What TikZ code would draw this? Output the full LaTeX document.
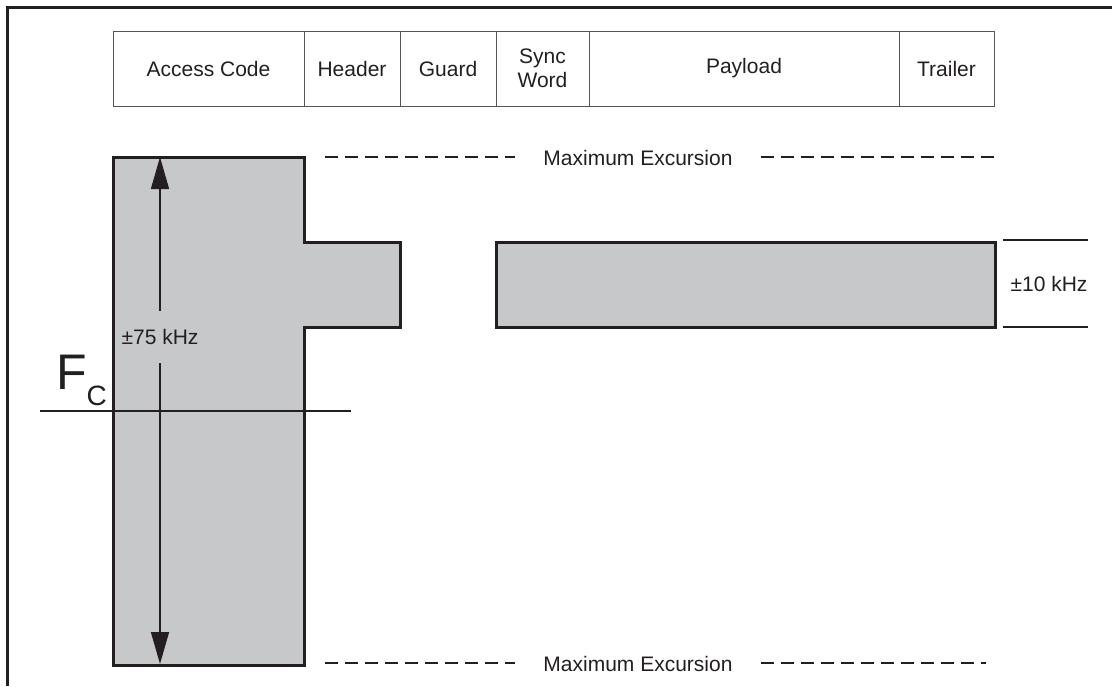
\documentclass[tikz,border=0pt]{standalone}
\usepackage{fontspec}
\setmainfont{Liberation Sans}
\usetikzlibrary{arrows.meta}
\definecolor{ink}{HTML}{231F20}
\definecolor{greyfill}{HTML}{C7C8CA}
\definecolor{cellline}{HTML}{555555}
\tikzset{
  cell/.style={draw=cellline, line width=1pt, minimum height=75pt, inner sep=0pt, outer sep=0pt, anchor=north west, align=center, text=ink, font=\fontsize{21}{24}\selectfont},
  lbl/.style={text=ink, inner sep=0pt, font=\fontsize{21}{24}\selectfont},
  band/.style={draw=ink, fill=greyfill, line width=3pt, line join=miter},
  maxline/.style={draw=ink, line width=2.2pt, dash pattern=on 13pt off 7pt},
  dimline/.style={draw=ink, line width=2.4pt},
  spanarrow/.style={draw=ink, line width=1.5pt, -{Triangle[length=32pt,width=18pt]}},
  frame/.style={draw=ink, line width=3pt}
}
\begin{document}
\begin{tikzpicture}[x=1pt,y=-1pt]
\useasboundingbox (0,0) rectangle (1112,686);
% frame
\coordinate (ftl) at (7,7);
\coordinate (ftr) at (1112,7);
\coordinate (fbl) at (7,686);
\draw[frame] (ftr) -- (ftl) -- (fbl);
% packet table
\node[cell, minimum width=191pt] (ac) at (113,31) {Access Code};
\node[cell, minimum width=96pt] (hd) at (ac.north east) {Header};
\node[cell, minimum width=96pt] (gd) at (hd.north east) {Guard};
\node[cell, minimum width=93pt] (sw) at (gd.north east) {Sync\\Word};
\node[cell, minimum width=310pt] (pl) at (sw.north east) {Payload};
\node[cell, minimum width=95pt] (tr) at (pl.north east) {Trailer};
% grey bands
\draw[band] (113,157) -- (304,157) -- (304,242) -- (400,242) -- (400,327) -- (304,327) -- (304,665) -- (113,665) -- cycle;
\draw[band] (496,242) rectangle (995,327);
% maximum excursion lines
\node[lbl, inner xsep=28pt] (mt) at (638,158) {Maximum Excursion};
\coordinate (mtl) at (325,157);
\coordinate (mtr) at (998,157);
\draw[maxline] (mtl) -- (mt.west |- mtl);
\draw[maxline] (mt.east |- mtr) -- (mtr);
\node[lbl, inner xsep=28pt] (mb) at (638,664) {Maximum Excursion};
\coordinate (mbl) at (325,663);
\coordinate (mbr) at (986,663);
\draw[maxline] (mbl) -- (mb.west |- mbl);
\draw[maxline] (mb.east |- mbr) -- (mbr);
% +-75 kHz arrow
\node[lbl, minimum height=52pt] (k75) at (160,337) {±75 kHz};
\coordinate (atop) at (160,157);
\coordinate (abot) at (160,664);
\draw[spanarrow] (k75.north) -- (atop);
\draw[spanarrow] (k75.south) -- (abot);
% Fc line
\coordinate (fcl) at (40,411);
\coordinate (fcr) at (351,411);
\draw[draw=ink, line width=1.5pt] (fcl) -- (fcr);
\node[inner sep=0pt, anchor=base west, text=ink] (fc) at (56,389) {\fontsize{50}{50}\selectfont F\raisebox{-16pt}{\fontsize{28}{28}\selectfont C}};
% +-10 kHz
\coordinate (d1l) at (1003,240);
\coordinate (d1r) at (1088,240);
\coordinate (d2l) at (1003,327);
\coordinate (d2r) at (1088,327);
\draw[dimline] (d1l) -- (d1r);
\draw[dimline] (d2l) -- (d2r);
\node[lbl] (k10) at (1049,284) {±10 kHz};
\end{tikzpicture}
\end{document}
